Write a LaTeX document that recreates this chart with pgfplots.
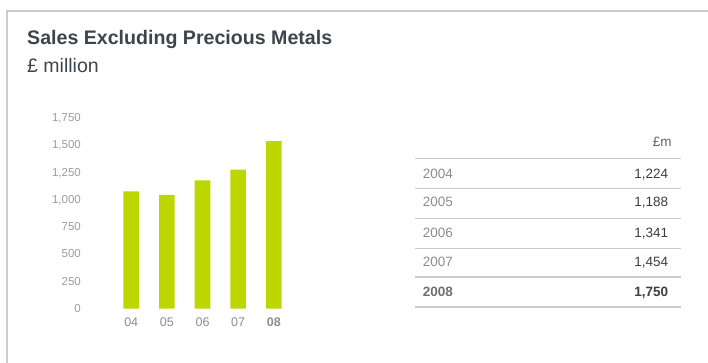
\documentclass[border=0pt]{standalone}
\usepackage{pgfplots}
\pgfplotsset{compat=1.18}
\usepackage{fontspec}
\setmainfont{Liberation Sans}
\definecolor{barcol}{HTML}{BED600}
\definecolor{titlecol}{HTML}{3C444C}
\definecolor{tickcol}{HTML}{9C9C9C}
\definecolor{framecol}{HTML}{CCCCCC}
\definecolor{rulecol}{HTML}{C8CACC}
\definecolor{yearcol}{HTML}{8C8C8C}
\definecolor{valcol}{HTML}{3A3E42}
\begin{document}
\begin{tikzpicture}
\useasboundingbox (0,0) rectangle (708pt,-363pt);
\draw[line width=1.2pt, framecol] (7pt,-363pt) -- (7pt,-11pt) -- (708pt,-11pt);
\node[anchor=base west, inner sep=0, text=titlecol, font=\fontsize{19.6}{21}\selectfont\bfseries] at (27pt,-45pt) {Sales Excluding Precious Metals};
\node[anchor=base west, inner sep=0, text=titlecol, font=\fontsize{19.5}{21}\selectfont] at (27pt,-73pt) {£ million};
\begin{axis}[
  at={(113.4pt,-308.5pt)}, anchor=south west,
  scale only axis, width=178.2pt, height=191.2pt,
  xmin=-0.5, xmax=4.5, ymin=0, ymax=1750,
  axis line style={draw=none}, tick style={draw=none},
  ytick={0,250,...,1750}, xtick={0,...,4},
  xticklabels={04,05,06,07,\textbf{08}},
  /pgf/number format/assume math mode=true,
  /pgf/number format/1000 sep={,},
  yticklabel style={anchor=base east, inner sep=0pt, xshift=-32.4pt, yshift=-4.1pt, text=tickcol, font=\fontsize{11.5}{12}\selectfont},
  xticklabel style={anchor=center, inner sep=0pt, yshift=-13.5pt, text=tickcol!90!black, font=\fontsize{12.5}{13}\selectfont},
]
\addplot[ybar, bar width=15.7pt, fill=barcol, draw=none] coordinates {(0,1071) (1,1040) (2,1173) (3,1272) (4,1531)};
\end{axis}
% table
\begin{scope}[font=\fontsize{13.5}{14}\selectfont]
\node[anchor=base east, inner sep=0, text=valcol!80!white] at (671.7pt,-146.5pt) {£m};
\foreach \y in {159,189,218.3,248.3} \draw[rulecol, line width=1pt] (415pt,-\y pt) -- (680.7pt,-\y pt);
\foreach \y in {276.7,307} \draw[rulecol, line width=2pt] (415pt,-\y pt) -- (680.7pt,-\y pt);
\foreach \yr/\v/\c in {2004/{1,224}/173.3, 2005/{1,188}/202, 2006/{1,341}/232.7, 2007/{1,454}/262} {
  \node[anchor=base west, inner sep=0, text=yearcol] at (422.7pt,-\c pt-4.8pt) {\yr};
  \node[anchor=base east, inner sep=0, text=valcol] at (668.3pt,-\c pt-4.8pt) {\v};
}
\node[anchor=base west, inner sep=0, text=yearcol!80!black, font=\fontsize{13.5}{14}\selectfont\bfseries] at (422.7pt,-296.8pt) {2008};
\node[anchor=base east, inner sep=0, text=valcol, font=\fontsize{13.5}{14}\selectfont\bfseries] at (668.3pt,-296.8pt) {1,750};
\end{scope}
\end{tikzpicture}
\end{document}
